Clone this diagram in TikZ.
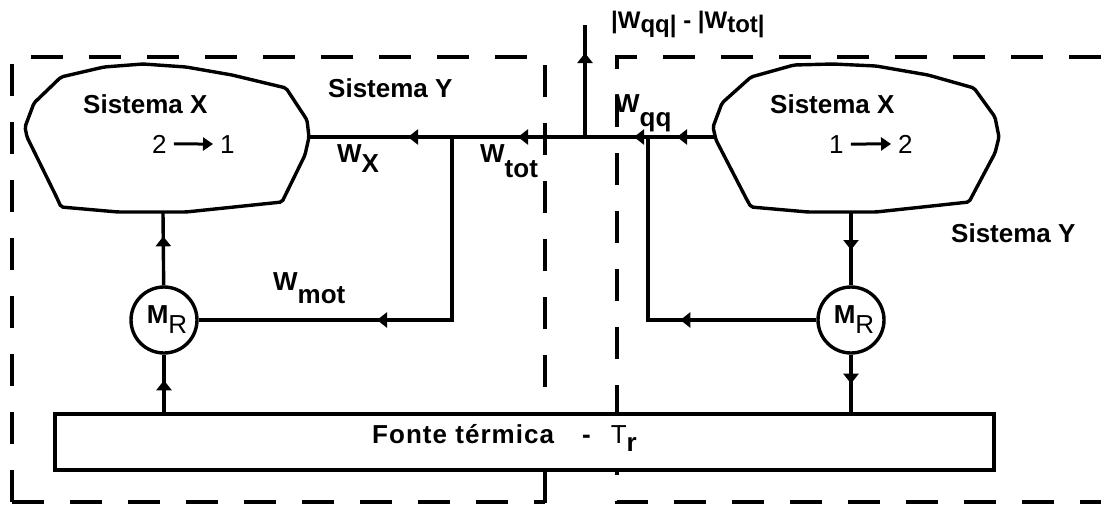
\documentclass[tikz,border=0pt]{standalone}
\usepackage{fontspec}
\setmainfont{Liberation Sans}
\usetikzlibrary{arrows.meta,decorations.markings}
\newcommand\fbig{\fontsize{26}{30}\selectfont}
\newcommand\fmid{\fontsize{24}{28}\selectfont}
\begin{document}
\begin{tikzpicture}[x=1pt,y=-1pt,
  wire/.style={line width=3.4pt},
  dbox/.style={line width=3.4pt,dash pattern=on 32pt off 26pt},
  blob/.style={line width=3.4pt,rounded corners=2pt},
  lbl/.style={inner sep=0pt,anchor=base west,font=\fbig\bfseries},
  num/.style={inner sep=0pt,anchor=base west,font=\fbig},
  txtarrow/.style={line width=3pt,-{Triangle[length=10pt,width=13pt]},shorten <=7pt,shorten >=7pt},
  motor/.style={circle,draw,line width=3.4pt,minimum size=66pt,inner sep=0pt},
  arr/.style={postaction={decorate},decoration={markings,mark=at position #1 with {\arrow{Triangle[length=10pt,width=15pt]}}}}
]
\useasboundingbox (0,0) rectangle (1101,506);

% dashed system boundaries
\draw[dbox] (12,502) -- (12,57) -- (545,57) -- (545,506);
\draw[dbox] (12,502) -- (545,502);
\draw[dbox] (1101,57) -- (617,57) -- (617,502) -- (1101,502);

% systems X
\draw[blob] (61,77) -- (104,67) -- (143,64) -- (186,67) -- (232,75) -- (286,88) -- (307,120) -- (309,137) -- (305,155) -- (282,202) -- (186,212) -- (118,212) -- (61,207) -- (57,198) -- (27,137) -- (25,127) -- (34,103) -- cycle;
\draw[blob] (751,77) -- (794,65) -- (833,64) -- (876,66) -- (928,75) -- (974,88) -- (995,117) -- (999,137) -- (995,153) -- (969,202) -- (876,212) -- (808,212) -- (751,207) -- (747,200) -- (716,140) -- (713,127) -- (722,103) -- cycle;
\coordinate (lblobE) at (309,137);
\coordinate (lblobS) at (163,212);
\coordinate (rblobW) at (715,137);
\coordinate (rblobS) at (851,212);

% junctions
\coordinate (J648) at (648,137);
\coordinate (J585) at (585,137);
\coordinate (J452) at (452,137);
\coordinate (top) at (585,25);

% motors and source
\node[motor] (mrL) at (164,320) {\fbig\bfseries\hspace*{6pt}\raisebox{5pt}{M\raisebox{-10pt}{\mdseries R}}};
\node[motor] (mrR) at (851,320) {\fbig\bfseries\hspace*{6pt}\raisebox{5pt}{M\raisebox{-10pt}{\mdseries R}}};
\node[draw,fill=white,line width=3.4pt,minimum width=939pt,minimum height=56pt,inner sep=0pt] (fonte) at (524.5,442) {};

% connectors
\draw[wire,arr=38pt] (rblobW) -- (J648);
\draw[wire,arr=14pt] (J648) -- (J585);
\draw[wire,arr=67pt] (J585) -- (J452);
\draw[wire,arr=44pt] (J452) -- (lblobE);
\draw[wire,arr=84pt] (J585) -- (top);
\draw[wire,arr=258pt] (J452) |- (mrL);
\draw[wire,arr=136pt] (mrR) -| (J648);
\draw[wire,arr=49pt] (mrL) -- (lblobS);
\draw[wire,arr=32pt] (fonte.north -| mrL) -- (mrL);
\draw[wire,arr=38pt] (rblobS) -- (mrR);
\draw[wire,arr=29pt] (mrR) -- (fonte.north -| mrR);

% texts
\node[lbl] (sxL) at (83,113) {Sistema X};
\node[num] (twoL) at (152,153) {2};
\node[num] (oneL) at (220,153) {1};
\draw[txtarrow] (twoL) -- (oneL);
\node[lbl] (sxR) at (770,113) {Sistema X};
\node[num] (oneR) at (829,153) {1};
\node[num] (twoR) at (898,153) {2};
\draw[txtarrow] (oneR) -- (twoR);
\node[lbl] (syL) at (328,97) {Sistema Y};
\node[lbl] (syR) at (951,242) {Sistema Y};
\node[lbl] (wx) at (337,162) {W\raisebox{-10pt}{X}};
\node[lbl] (wtot) at (480,162) {W\raisebox{-15pt}{tot}};
\node[lbl] (wqq) at (615,112) {W\raisebox{-14pt}{qq}};
\node[lbl] (wmot) at (273,290) {W\raisebox{-13pt}{mot}};
\node[lbl,font=\fmid\bfseries] (diff) at (611,28) {|W\raisebox{-4pt}{qq|} - |W\raisebox{-4pt}{tot|}};
\node[lbl] (fontelbl) at (372,443) {\makebox[210pt][l]{\addfontfeature{LetterSpace=4}Fonte térmica}-\hspace{20pt}{\mdseries T}\raisebox{-8pt}{r}};
\end{tikzpicture}
\end{document}
